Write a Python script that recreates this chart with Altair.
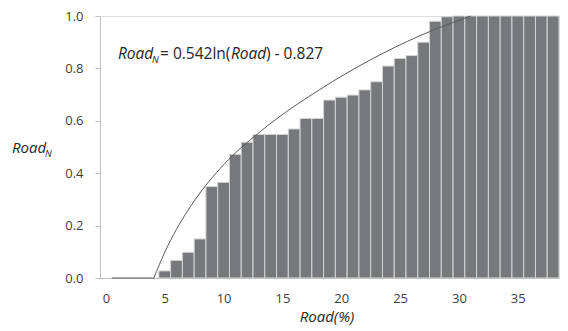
import altair as alt
import pandas as pd

# ---- data ----
categories = list(range(0, 39))
road_n = [0, 0, 0, 0, 0,
          0.027, 0.067, 0.098, 0.149, 0.349, 0.365, 0.472, 0.518, 0.548, 0.548,
          0.548, 0.569, 0.609, 0.609, 0.679, 0.690, 0.698, 0.718, 0.749, 0.809,
          0.838, 0.849, 0.900, 0.980, 0.997, 1.0, 1.0, 1.0, 1.0, 1.0,
          1.0, 1.0, 1.0, 1.0]

# trend curve, points (flat part, then rising part)
curve_x = [0.5, 4.08, 4.08, 5.0, 6.0, 7.57, 10.0, 13.1, 18.2, 22.45, 26.7, 31.0]
curve_y = [0.0, 0.0, 0.0, 0.098, 0.186, 0.298, 0.432, 0.558, 0.72, 0.832, 0.925, 1.0]
curve_part = ["flat", "flat", "rise", "rise", "rise", "rise", "rise", "rise", "rise", "rise", "rise", "rise"]

x_ticks = [0, 5, 10, 15, 20, 25, 30, 35]
y_ticks = [0.0, 0.2, 0.4, 0.6, 0.8, 1.0]

FONT = "Open Sans"
TXT = "#404040"
AXIS = "#bfbfbf"

bars_df = pd.DataFrame({"cat": categories, "v": road_n})
curve_df = pd.DataFrame({"x": curve_x, "y": curve_y, "part": curve_part})

xscale = alt.Scale(domain=[-0.5, 38.5], nice=False, zero=False)
yscale = alt.Scale(domain=[0, 1], nice=False)

bars = (
    alt.Chart(bars_df)
    .transform_filter("datum.v > 0")
    .transform_calculate(x0="datum.cat - 0.5", x1="datum.cat + 0.5")
    .mark_rect(color="#77787c", stroke="#d4d4d4", strokeWidth=1)
    .encode(
        x=alt.X("x0:Q", scale=xscale,
                axis=alt.Axis(values=x_ticks, title=None, grid=False, ticks=False,
                              domainColor=AXIS, labelFont=FONT, labelFontSize=13,
                              labelColor=TXT, labelPadding=14)),
        x2="x1:Q",
        y=alt.Y("v:Q", scale=yscale,
                axis=alt.Axis(values=y_ticks, format=".1f", title=None, grid=False,
                              tickSize=5, tickColor=AXIS, domainColor=AXIS,
                              labelFont=FONT, labelFontSize=13, labelColor=TXT,
                              labelPadding=12)),
        y2=alt.datum(0),
    )
)

curve = (
    alt.Chart(curve_df)
    .mark_line(color="#5a5a5a", strokeWidth=1, interpolate="monotone")
    .encode(x=alt.X("x:Q", scale=xscale), y=alt.Y("y:Q", scale=yscale),
            detail="part:N")
)

one = pd.DataFrame({"k": [0]})


def label(text, x, y, size, italic=False, align="left"):
    return alt.Chart(one).mark_text(
        text=text, font=FONT, fontSize=size, fontStyle="italic" if italic else "normal",
        color="#262626", align=align, baseline="alphabetic"
    ).encode(x=alt.value(x), y=alt.value(y))


EQ = 15.5
texts = [
    # equation
    label("Road", 18, 43, EQ, True),
    label("N", 52, 47, 9.5, True),
    label("= 0.542ln(", 60, 43, EQ),
    label("Road", 131, 43, EQ, True),
    label(") - 0.827", 166, 43, EQ),
    # y title
    label("Road", -88, 137, 15, True),
    label("N", -55, 141, 9.5, True),
    # x title
    label("Road(%)", 227, 306, 15, True, "center"),
]

chart = alt.layer(bars, curve, *texts).properties(
    width=459, height=262,
    autosize=alt.AutoSizeParams(type="none"),
    padding={"left": 92, "top": 8, "right": 1, "bottom": 50},
).configure_view(stroke=None).configure(background="white")

chart.save("out.html", embed_options={"renderer": "svg", "actions": False})
